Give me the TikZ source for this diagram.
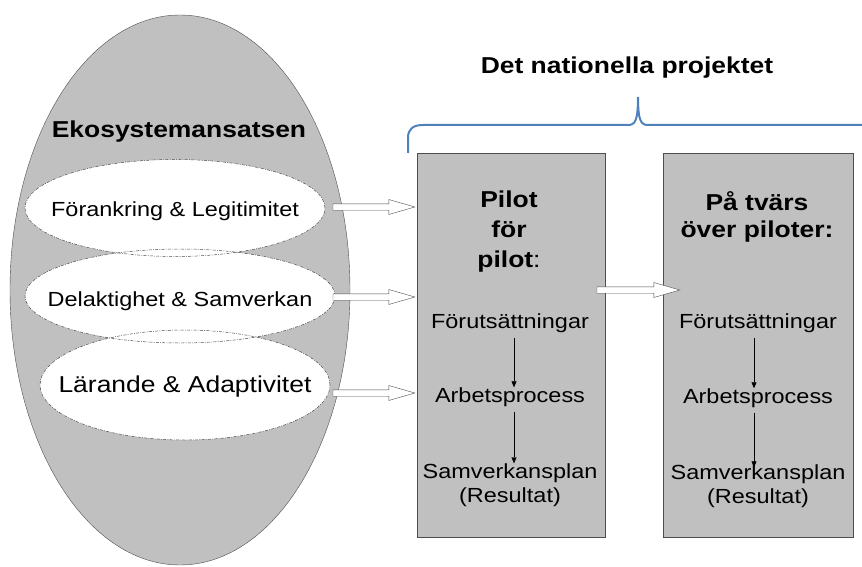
\documentclass[tikz,border=0pt]{standalone}
\usepackage{fontspec}
\setmainfont{Liberation Sans}[FakeStretch=1.15]
\usetikzlibrary{shapes.geometric,arrows.meta,calc}
\definecolor{boxgray}{HTML}{C0C0C0}
\definecolor{edgegray}{HTML}{4D4D4D}
\definecolor{braceblue}{HTML}{4F81BD}
\tikzset{
  txt/.style={font=\fontsize{20.4}{24}\selectfont, align=center, inner sep=0pt},
  ttl/.style={font=\fontsize{23}{27}\selectfont\bfseries, align=center, inner sep=0pt},
  oval/.style={ellipse, fill=white, inner sep=0pt, outer sep=0pt},
  ovalline/.style={draw=gray!60!black, line width=0.5pt, dash pattern=on 3pt off 1.3pt on 0.8pt off 1.3pt},
  pilotbox/.style={rectangle, draw=edgegray, fill=boxgray, inner sep=0pt, minimum width=#1, minimum height=384pt},
  flow/.style={-{Triangle[length=6pt,width=5pt]}, black, thin},
  hollow/.style={draw=edgegray, fill=white, thin, line join=miter,
    to path={let \p1=(\tikztostart), \p2=(\tikztotarget) in
      (\x1,{\y1+3.2pt}) -- ({\x2-26pt},{\y1+3.2pt}) -- ({\x2-26pt},{\y1+7.5pt}) -- (\x2,\y1)
      -- ({\x2-26pt},{\y1-7.5pt}) -- ({\x2-26pt},{\y1-3.2pt}) -- (\x1,{\y1-3.2pt}) -- cycle}},
}
\begin{document}
\begin{tikzpicture}[x=1pt,y=-1pt]
    \useasboundingbox (0,0) rectangle (862,567);
    \node[ellipse, draw=edgegray, fill=boxgray, inner sep=0pt, minimum width=340pt, minimum height=550pt] (eco) at (180,290) {};
    \node[ttl] (ekotitle) at (179,132) {Ekosystemansatsen};
    \node[oval, minimum width=300pt, minimum height=97pt] (e1) at (175,208) {};
    \node[txt] (e1text) at (175,211) {Förankring \& Legitimitet};
    \node[oval, minimum width=310pt, minimum height=94pt] (e2) at (180,296) {};
    \node[txt] (e2text) at (180,301) {Delaktighet \& Samverkan};
    \node[oval, minimum width=290pt, minimum height=110pt] (e3) at (185,385) {};
    \node[txt, font=\fontsize{23}{27}\selectfont] (e3text) at (185,387) {Lärande \& Adaptivitet};
    \foreach \e in {e1,e2,e3}
      \draw[ovalline] let \p1=(\e.center), \p2=(\e.east), \p3=(\e.north) in (\p1) ellipse ({\x2-\x1} and {\y3-\y1});

    \node[ttl] (natitle) at (627,68) {Det nationella projektet};
    \draw[braceblue, line width=2pt] (408,153) -- (408,138) .. controls (408,129) and (413,125) .. (423,125) -- (628,125) .. controls (635,125) and (638,121) .. (638,97) .. controls (638,121) and (641,125) .. (648,125) -- (862,125);

    \node[pilotbox=188pt] (p1) at (511,345) {};
    \node[pilotbox=190pt] (p2) at (758,345) {};

    \node[ttl, font=\fontsize{23}{30}\selectfont\bfseries] (t1) at (509,232) {Pilot\\för\\pilot{\mdseries:}};
    \node[txt] (f1) at (510,323) {Förutsättningar};
    \node[txt] (a1) at (510,397) {Arbetsprocess};
    \node[txt] (s1) at (510,485) {Samverkansplan\\(Resultat)};
    \draw[flow, shorten <=5pt] ([xshift=4pt]f1.south) -- ([xshift=4pt]a1.north);
    \draw[flow, shorten <=5pt] ([xshift=4pt]a1.south) -- ([xshift=4pt]s1.north);

    \node[ttl] (t2) at (757,217) {På tvärs\\över piloter:};
    \node[txt] (f2) at (758,323) {Förutsättningar};
    \node[txt] (a2) at (758,398) {Arbetsprocess};
    \node[txt] (s2) at (758,486) {Samverkansplan\\(Resultat)};
    \draw[flow, thick, shorten <=5pt] ([xshift=-4pt]f2.south) -- ([xshift=-4pt]a2.north);
    \draw[flow, thick, shorten <=5pt, shorten >=-3pt] ([xshift=-4pt]a2.south) -- ([xshift=-4pt]s2.north);

    \coordinate (h1) at (333,207);
    \coordinate (h2) at (333,297);
    \coordinate (h3) at (333,393);
    \coordinate (h4) at (597,290);
    \draw[hollow] (h1) to ($(p1.west |- h1)+(-2,0)$);
    \draw[hollow] (h2) to ($(p1.west |- h2)+(-2,0)$);
    \draw[hollow] (h3) to ($(p1.west |- h3)+(-2,0)$);
    \draw[hollow] (h4) to ($(p2.west |- h4)+(17,0)$);
\end{tikzpicture}
\end{document}
